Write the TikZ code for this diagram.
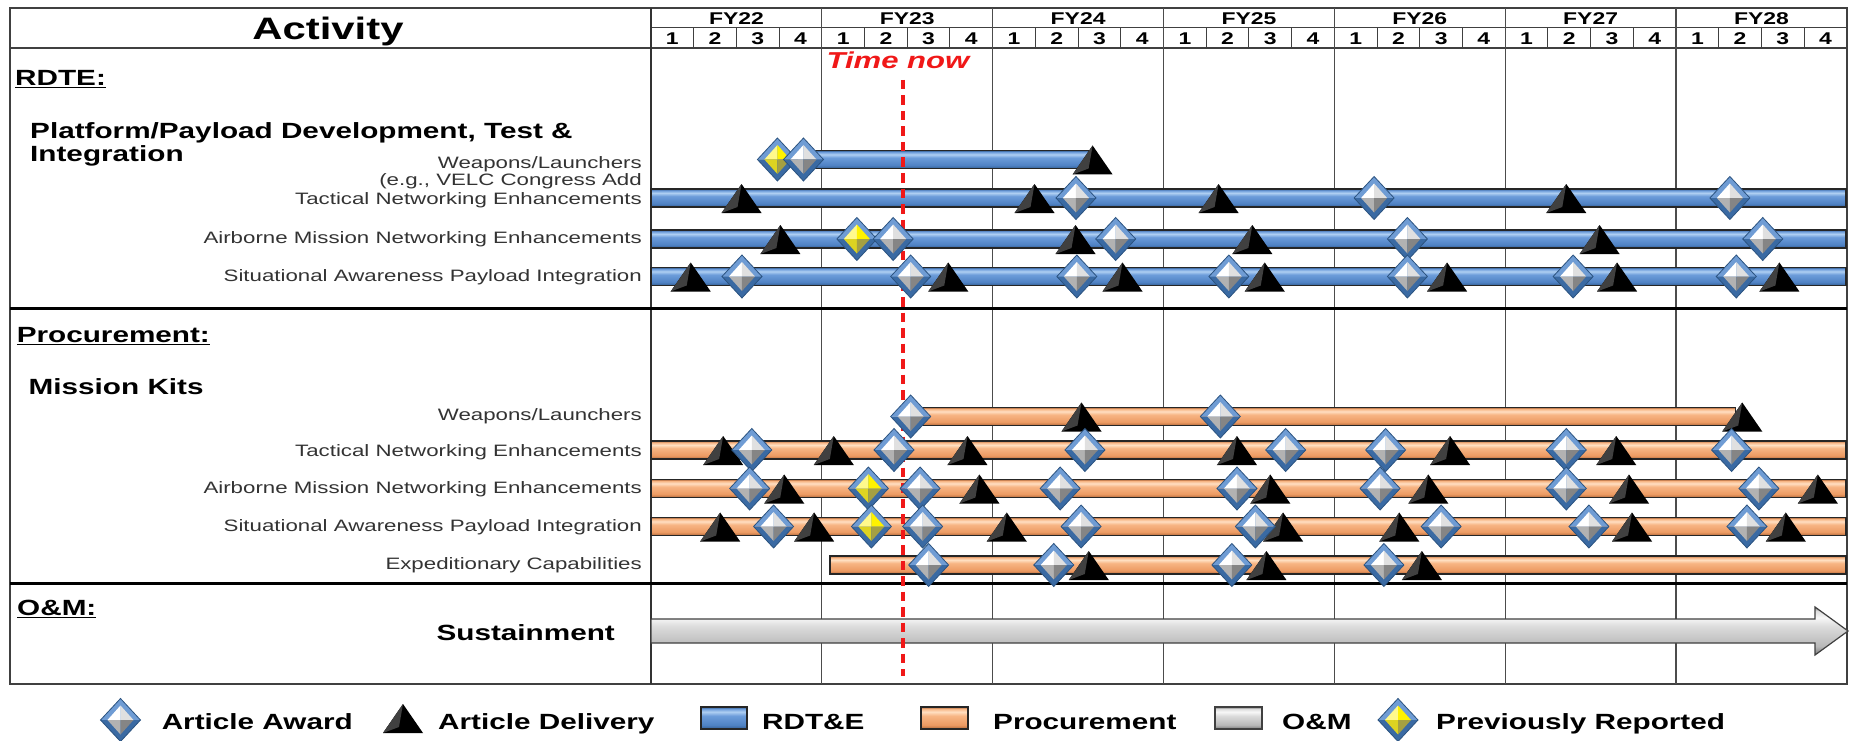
\documentclass[tikz,border=0pt]{standalone}
\usepackage{fontspec}
\setmainfont{Liberation Sans}[FakeStretch=1.35]

\definecolor{rdteA}{HTML}{335E94}
\definecolor{rdteB}{HTML}{4F82C4}
\definecolor{rdteC}{HTML}{6C9CDA}
\definecolor{rdteD}{HTML}{AFCFF2}
\definecolor{procA}{HTML}{B0683A}
\definecolor{procB}{HTML}{EC9A62}
\definecolor{procC}{HTML}{F7B584}
\definecolor{procD}{HTML}{FFDFC2}
\definecolor{omA}{HTML}{7A7A7A}
\definecolor{omB}{HTML}{B8B8B8}
\definecolor{omC}{HTML}{DCDCDC}
\definecolor{omD}{HTML}{F8F8F8}
\definecolor{rimlight}{HTML}{6F9CD4}
\definecolor{rimdark}{HTML}{3A6AA3}
\definecolor{rimline}{HTML}{2B5380}
\definecolor{nowred}{HTML}{F01818}

\pgfdeclareverticalshading{rdteshade}{100bp}{color(0bp)=(rdteA); color(25bp)=(rdteA); color(34bp)=(rdteB); color(55bp)=(rdteC); color(64bp)=(rdteD); color(71bp)=(rdteC); color(75bp)=(rdteA); color(100bp)=(rdteA)}
\pgfdeclareverticalshading{procshade}{100bp}{color(0bp)=(procA); color(25bp)=(procA); color(34bp)=(procB); color(55bp)=(procC); color(64bp)=(procD); color(71bp)=(procC); color(75bp)=(procA); color(100bp)=(procA)}
\pgfdeclareverticalshading{omshade}{100bp}{color(0bp)=(omA); color(25bp)=(omA); color(34bp)=(omB); color(55bp)=(omC); color(64bp)=(omD); color(71bp)=(omC); color(75bp)=(omA); color(100bp)=(omA)}

\newcommand{\qx}[1]{651+42.71*(#1)}
\newcommand{\gemfacets}[4]{%
  \fill[rimlight] (-20,0) -- (0,-21.5) -- (20,0) -- cycle;
  \fill[rimdark] (-20,0) -- (0,21.5) -- (20,0) -- cycle;
  \draw[rimline, line width=0.8pt] (0,-21.5) -- (20,0) -- (0,21.5) -- (-20,0) -- cycle;
  \fill[#1] (0,0) -- (0,-14.5) -- (-13,0) -- cycle;
  \fill[#2] (0,0) -- (0,-14.5) -- (13,0) -- cycle;
  \fill[#3] (0,0) -- (-13,0) -- (0,14.5) -- cycle;
  \fill[#4] (0,0) -- (13,0) -- (0,14.5) -- cycle;
}

\tikzset{
  gridline/.style={black!70, line width=1.3pt},
  rdtebar/.style={shading=rdteshade, draw=black!85, line width=1.1pt},
  procbar/.style={shading=procshade, draw=black!85, line width=1.1pt},
  ombar/.style={shading=omshade, draw=black!75, line width=1.2pt},
  head/.style={font=\fontsize{22}{24}\selectfont\bfseries, inner sep=0pt, text height=15.8pt, text depth=0pt},
  rowlab/.style={font=\fontsize{16.5}{18}\selectfont, text=black!80, anchor=east, inner sep=0pt, text height=11.8pt, text depth=0pt},
  fylab/.style={font=\fontsize{17}{19}\selectfont\bfseries, inner sep=0pt, text height=12.2pt, text depth=0pt},
  legendlab/.style={head, anchor=west},
  award/.pic={\gemfacets{white}{black!12}{black!30}{black!48}},
  prevrep/.pic={\gemfacets{yellow!45}{yellow}{yellow!85!black}{yellow!60!black}},
  delivery/.pic={
    \fill[black] (0,-14) -- (20,15) -- (-20,15) -- cycle;
    \fill[black!75] (0,-14) -- (-4,9) -- (-20,15) -- cycle;
  }
}

\begin{document}
\begin{tikzpicture}[x=1pt,y=-1pt]
\useasboundingbox (0,0) rectangle (1853,741);
\fill[white] (0,0) rectangle (1853,741);

\draw[black!75, line width=2pt] (10,8) rectangle (1847,684);
\draw[black!75, line width=2pt] (10,48) -- (1847,48);
\draw[black!75, line width=1pt] (651,28) -- (1847,28);
\draw[black!80, line width=1.5pt] (651,8) -- (651,684);
\foreach \k in {1,...,6} \draw[gridline] ({\qx{4*\k}},8) -- ({\qx{4*\k}},684);
\foreach \k in {0,...,6} \foreach \j in {1,2,3} \draw[black!75, line width=1pt] ({\qx{4*\k+\j}},28) -- ({\qx{4*\k+\j}},48);
\foreach \fy [count=\k from 0] in {22,...,28} \node[fylab] (fy\fy) at ({\qx{4*\k+2}},18) {FY\fy};
\foreach \k in {0,...,6} \foreach \j in {1,...,4} \node[fylab] (q\k\j) at ({\qx{4*\k+\j-0.5}},38.5) {\j};
\draw[black, line width=3pt] (10,308) -- (1847,308);
\draw[black, line width=3pt] (10,583) -- (1847,583);

\node[font=\fontsize{31}{33}\selectfont\bfseries, inner sep=0pt, text height=22pt, text depth=0pt] (activity) at (328,29) {Activity};
\node[head, anchor=west] (rdte) at (15,78) {\underline{RDTE:}};
\node[head, anchor=west] (platform) at (30,131) {Platform/Payload Development, Test \&};
\node[head, anchor=west] (integ) at (30,154) {Integration};
\node[head, anchor=west] (proc) at (16.6,335) {\underline{Procurement:}};
\node[head, anchor=west] (kits) at (28.5,387) {Mission Kits};
\node[head, anchor=west] (om) at (17,608) {\underline{O\&M:}};
\node[head, anchor=east] (sust) at (615,632.5) {Sustainment};

\node[rowlab] (rwl) at (642,163) {Weapons/Launchers};
\node[rowlab] (rwl2) at (642,179.5) {(e.g., VELC Congress Add};
\node[rowlab] (rtne) at (642,199) {Tactical Networking Enhancements};
\node[rowlab] (ramn) at (642,238) {Airborne Mission Networking Enhancements};
\node[rowlab] (rsap) at (642,275.5) {Situational Awareness Payload Integration};
\node[rowlab] (pwl) at (642,415) {Weapons/Launchers};
\node[rowlab] (ptne) at (642,451) {Tactical Networking Enhancements};
\node[rowlab] (pamn) at (642,488) {Airborne Mission Networking Enhancements};
\node[rowlab] (psap) at (642,526) {Situational Awareness Payload Integration};
\node[rowlab] (pexp) at (642,564) {Expeditionary Capabilities};

\shadedraw[rdtebar] ({\qx{3.57}},150.5) rectangle ({\qx{10.34}},168.5);
\foreach \y in {198,239,276.5} \shadedraw[rdtebar] (651,\y-9) rectangle (1846,\y+9);
\shadedraw[procbar] ({\qx{6.08}},407.5) rectangle ({\qx{25.4}},425.5);
\foreach \y in {450,488.5,526.5} \shadedraw[procbar] (651,\y-9) rectangle (1846,\y+9);
\shadedraw[procbar] ({\qx{4.19}},556) rectangle (1846,574);
\shadedraw[ombar] (651,619) -- (1815,619) -- (1815,607) -- (1848,631) -- (1815,655) -- (1815,643) -- (651,643) -- cycle;

\node[font=\fontsize{23}{25}\selectfont\bfseries\itshape, text=nowred, inner sep=0pt, text height=16.5pt, text depth=0pt] (now) at (898,60.5) {Time now};
\coordinate (nowend) at (903,676);
\draw[nowred, line width=3.5pt, dash pattern=on 9.5pt off 6pt] (903,80) -- (nowend);

\foreach \q in {10.34} \pic at ({\qx{\q}},159.5) {delivery};
\foreach \q in {2.12,8.98,13.29,21.43} \pic at ({\qx{\q}},198) {delivery};
\foreach \q in {3.03,9.94,14.08,22.21} \pic at ({\qx{\q}},239) {delivery};
\foreach \q in {0.93,6.96,11.04,14.37,18.64,22.62,26.42} \pic at ({\qx{\q}},276.5) {delivery};
\foreach \q in {10.08,25.55} \pic at ({\qx{\q}},416.5) {delivery};
\foreach \q in {1.69,4.28,7.41,13.72,18.71,22.6} \pic at ({\qx{\q}},450) {delivery};
\foreach \q in {3.12,7.69,14.5,18.2,22.9,27.32} \pic at ({\qx{\q}},488.5) {delivery};
\foreach \q in {1.62,3.82,8.33,14.8,17.52,22.97,26.57} \pic at ({\qx{\q}},526.5) {delivery};
\foreach \q in {10.25,14.41,18.05} \pic at ({\qx{\q}},565) {delivery};

\pic at ({\qx{2.96}},159.5) {prevrep};
\pic at ({\qx{4.82}},239) {prevrep};
\pic at ({\qx{5.09}},488.5) {prevrep};
\pic at ({\qx{5.16}},526.5) {prevrep};

\foreach \q in {3.57} \pic at ({\qx{\q}},159.5) {award};
\foreach \q in {9.95,16.93,25.26} \pic at ({\qx{\q}},198) {award};
\foreach \q in {5.67,10.88,17.71,26.03} \pic at ({\qx{\q}},239) {award};
\foreach \q in {2.13,6.08,9.97,13.53,17.71,21.59,25.41} \pic at ({\qx{\q}},276.5) {award};
\foreach \q in {6.08,13.33} \pic at ({\qx{\q}},416.5) {award};
\foreach \q in {2.36,5.69,10.16,14.86,17.2,21.43,25.3} \pic at ({\qx{\q}},450) {award};
\foreach \q in {2.31,6.3,9.58,13.72,17.07,21.43,25.94} \pic at ({\qx{\q}},488.5) {award};
\foreach \q in {2.87,6.36,10.07,14.15,18.5,21.96,25.66} \pic at ({\qx{\q}},526.5) {award};
\foreach \q in {6.5,9.43,13.6,17.16} \pic at ({\qx{\q}},565) {award};

\pic at (120.5,720) {award};
\node[legendlab] (lgaward) at (161.6,722) {Article Award};
\pic at (403,718) {delivery};
\node[legendlab] (lgdeliv) at (438,722) {Article Delivery};
\shadedraw[rdtebar] (701,707) rectangle (747,729);
\node[legendlab] (lgrdte) at (762,722) {RDT\&E};
\shadedraw[procbar] (921,707) rectangle (968,729);
\node[legendlab] (lgproc) at (993,722) {Procurement};
\shadedraw[ombar] (1215,707) rectangle (1262,729);
\node[legendlab] (lgom) at (1282,722) {O\&M};
\pic at (1398,720) {prevrep};
\node[legendlab] (lgprev) at (1436,722) {Previously Reported};
\end{tikzpicture}
\end{document}
